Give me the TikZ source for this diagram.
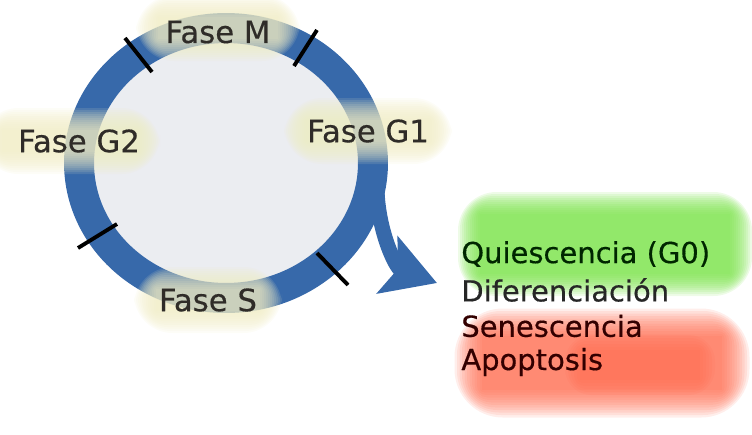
\documentclass[tikz,border=0pt]{standalone}
\usepackage{fontspec}
\setmainfont{DejaVu Sans}
\newfontfamily\cyclefont{DejaVu Sans}[FakeBold=0.4]
\usetikzlibrary{arrows.meta}
\definecolor{cycleblue}{RGB}{55,105,170}
\definecolor{cellgray}{RGB}{235,237,241}
\definecolor{phaseglow}{RGB}{240,236,196}
\definecolor{quiesgreen}{RGB}{120,226,70}
\definecolor{deathred}{RGB}{255,100,70}

\begin{document}
\begin{tikzpicture}[x=0.02cm, y=-0.02cm,
  ring/.style={draw=cycleblue, line width=0.6cm, fill=cellgray},
  checkpoint/.style={black, line width=2.2pt},
  branch/.style={cycleblue, line width=0.3cm, -{Stealth[length=1.05cm, width=1.2cm, inset=0.22cm]}},
  phase/.style={font=\cyclefont\fontsize{17.5}{20}\selectfont, text=black!88!olive, inner sep=0pt},
  fate/.style={font=\cyclefont\fontsize{16.5}{19}\selectfont, anchor=west, inner sep=0pt},
]
\useasboundingbox (0,0) rectangle (752,434);

% Cell cycle ring
\draw[ring] (226,163) ellipse [x radius=2.94cm, y radius=2.7cm];

% Checkpoints
\draw[checkpoint] (125,38) -- (152,72);
\draw[checkpoint] (294,66) -- (317,30);
\draw[checkpoint] (78,248) -- (117,224);
\draw[checkpoint] (317,253) -- (348,285);

% Exit from G1
\coordinate (exit) at (377,190);
\coordinate (tip) at (437,283);
\draw[branch] (exit) to[out=-88, in=160] (tip);

% Soft backgrounds of the phase labels
\foreach \cx/\cy/\w in {218/28/60, 70/141/68, 368/131/62, 208/300/52}
  \foreach \k in {0,...,11}
    \fill[phaseglow, opacity=0.13, rounded corners=2*\k]
      (\cx-\w-2*\k, \cy-11-2*\k) rectangle (\cx+\w+2*\k, \cy+11+2*\k);

% Phases
\node[phase] (faseM) at (218,32) {Fase M};
\node[phase] (faseG2) at (79,141) {Fase G2};
\node[phase] (faseG1) at (368,131) {Fase G1};
\node[phase] (faseS) at (208,300) {Fase S};

% Outcomes
\foreach \k in {0,...,11}
  \fill[quiesgreen, opacity=0.13, rounded corners=2*\k]
    (480-2*\k, 214-2*\k) rectangle (730+2*\k, 274+2*\k);
\foreach \k in {0,...,11}
  \fill[deathred, opacity=0.11, rounded corners=2.5*\k]
    (482-2.5*\k, 336-2.5*\k) rectangle (722+2.5*\k, 390+2.5*\k);
\foreach \k in {0,...,5}
  \fill[deathred, opacity=0.1, rounded corners=3*\k]
    (580-3*\k, 350-3*\k) rectangle (700+3*\k, 380+3*\k);

\node[fate, text=black!75!green!60!black] (quies) at (461,254) {Quiescencia (G0)};
\node[fate, text=black!85] (difer) at (461,290) {Diferenciación};
\node[fate, text=black!80!red] (senes) at (461,326) {Senescencia};
\node[fate, text=black!80!red] (apop) at (461,362) {Apoptosis};
\end{tikzpicture}
\end{document}
